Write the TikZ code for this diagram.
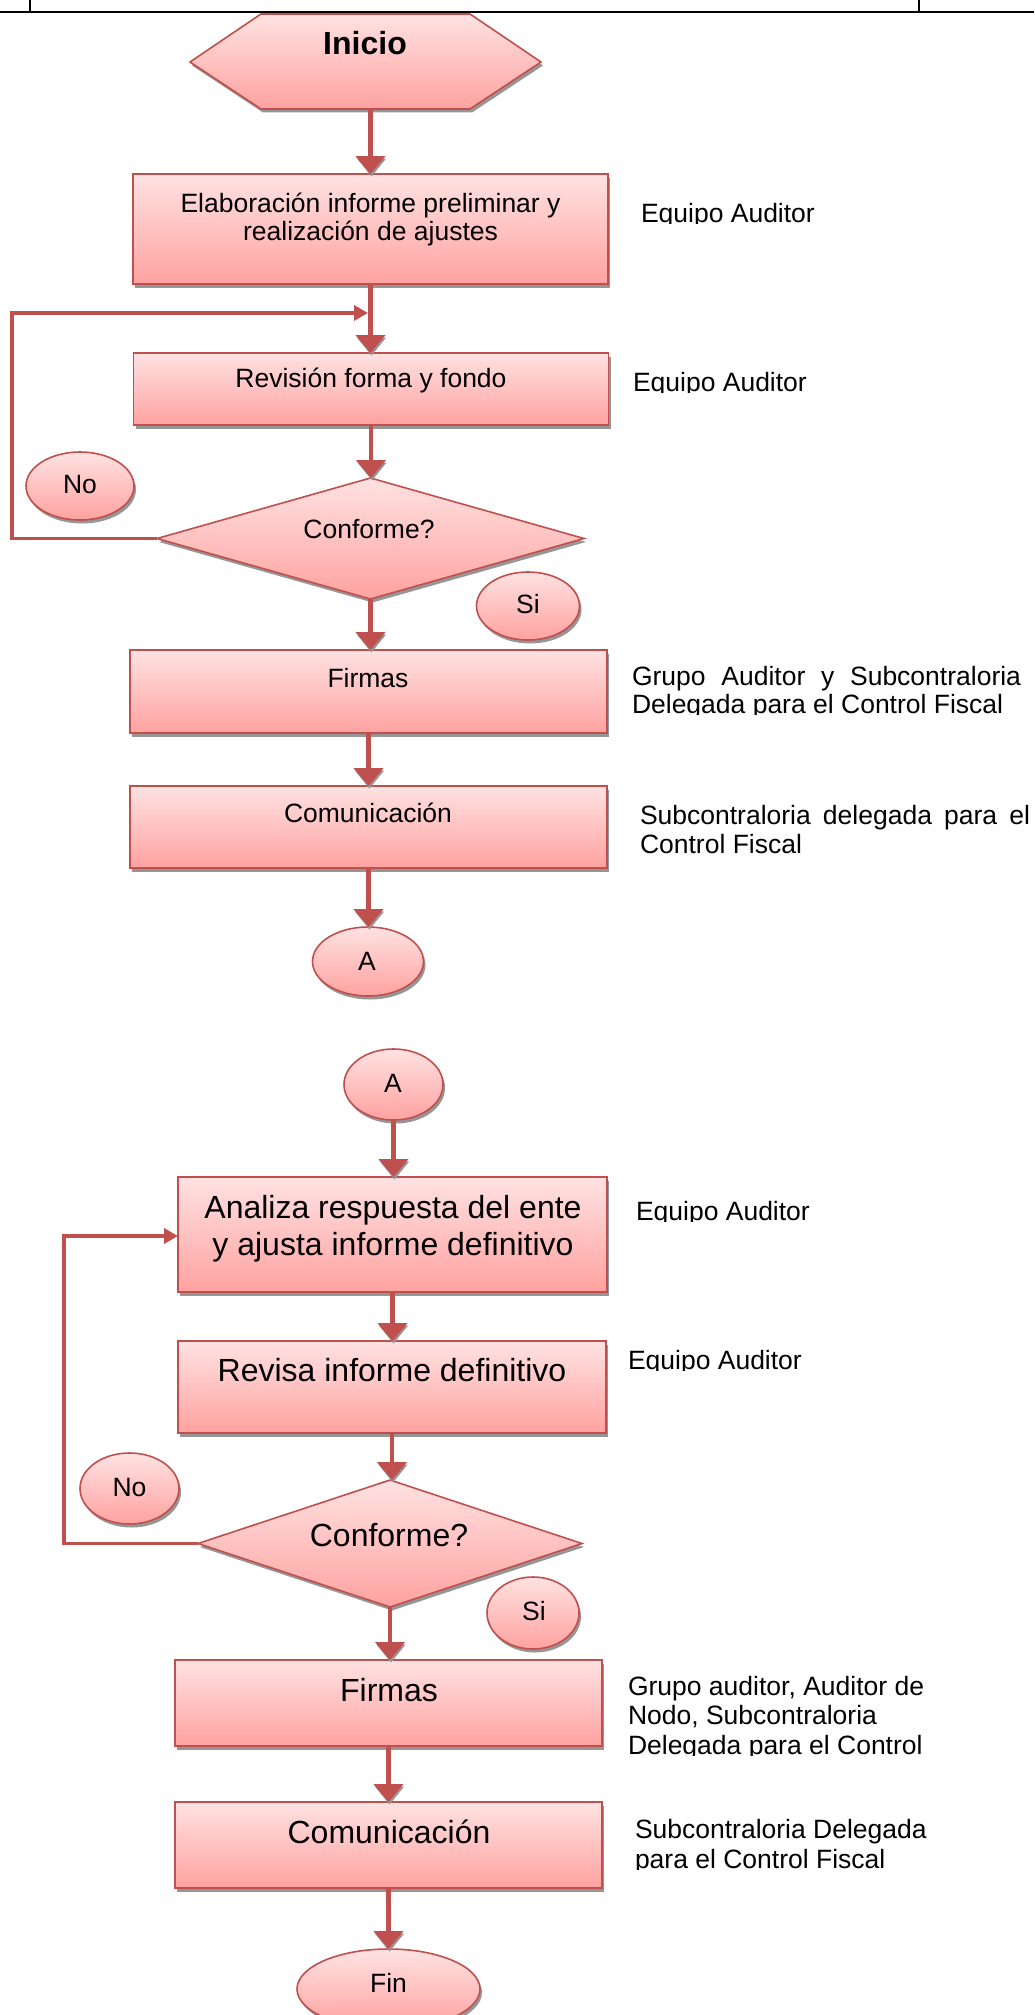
\documentclass[tikz,border=0pt]{standalone}
\usepackage{fontspec}
\setmainfont{Liberation Sans}
\usetikzlibrary{arrows.meta,shapes.geometric,shadows}
\definecolor{lred}{HTML}{C0504D}
\definecolor{ftop}{RGB}{255,226,226}
\definecolor{fbot}{RGB}{255,162,160}
\definecolor{shd}{RGB}{150,150,150}
\newcommand{\arr}[2]{\draw[arrsh] #1 -- #2; \draw[arr] #1 -- #2;}
\begin{document}
\begin{tikzpicture}[x=1pt,y=-1pt,
  every node/.style={inner sep=0pt,outer sep=0pt},
  shp/.style={draw=lred,line width=1.6pt,top color=ftop,bottom color=fbot,
     drop shadow={shadow xshift=2pt,shadow yshift=-3.5pt,fill=shd,opacity=1}},
  tx/.style={font=\fontsize{26.5}{30}\selectfont},
  tb/.style={font=\fontsize{32}{36}\selectfont},
  arr/.style={draw=lred,line width=4.5pt,-{Triangle[width=29pt,length=18pt]}},
  arrsh/.style={draw=shd,line width=0.5pt,-{Triangle[width=29pt,length=18pt]},transform canvas={xshift=1pt,yshift=-2.5pt}},
  loopc/.style={draw=lred,line width=3.5pt,-{Triangle[width=15pt,length=14pt]}},
]
\useasboundingbox (0,0) rectangle (1034,2015);
\clip (0,0) rectangle (1034,2015);
\fill[white] (0,0) rectangle (1034,2015);

% ---------- shapes (upper part)
\path[shp] (190,62) -- (261,14) -- (470,14) -- (541,62) -- (470,109) -- (261,109) -- cycle;
\node[minimum width=351pt,minimum height=95pt] (ini) at (365.5,61.5) {};
\node[shp,minimum width=475pt,minimum height=110pt] (b1) at (370.5,229) {};
\node[shp,minimum width=475pt,minimum height=72pt] (b2) at (371,389) {};
\node[shp,diamond,minimum width=427pt,minimum height=121pt] (d1) at (370.5,538.5) {};
\node[shp,ellipse,minimum width=108pt,minimum height=68pt] (no1) at (80,486) {};
\node[shp,ellipse,minimum width=103pt,minimum height=68pt] (si1) at (528,606) {};
\node[shp,minimum width=477pt,minimum height=83pt] (b3) at (368.5,691.5) {};
\node[shp,minimum width=477pt,minimum height=82pt] (b4) at (368.5,827) {};
\node[shp,ellipse,minimum width=111pt,minimum height=69pt] (a1) at (368,961.5) {};

% ---------- shapes (lower part)
\node[shp,ellipse,minimum width=99pt,minimum height=71pt] (a2) at (393.5,1084.5) {};
\node[shp,minimum width=429pt,minimum height=115pt] (b5) at (392.5,1234.5) {};
\node[shp,minimum width=428pt,minimum height=92pt] (b6) at (392,1387) {};
\node[shp,diamond,minimum width=384pt,minimum height=127pt] (d2) at (390,1543.5) {};
\node[shp,ellipse,minimum width=99pt,minimum height=71pt] (no2) at (129.5,1488.5) {};
\node[shp,ellipse,minimum width=92pt,minimum height=72pt] (si2) at (533,1613) {};
\node[shp,minimum width=427pt,minimum height=86pt] (b7) at (388.5,1703) {};
\node[shp,minimum width=427pt,minimum height=86pt] (b8) at (388.5,1845) {};
\node[shp,ellipse,minimum width=183pt,minimum height=80pt] (fin) at (388.5,1989) {};

% ---------- header
\draw[line width=2.5pt] (0,12) -- (1034,12);
\draw[line width=1.2pt] (30,0) -- (30,12) (919,0) -- (919,12);

% ---------- texts in shapes
\node[font=\bfseries\fontsize{32}{36}\selectfont,anchor=base] (init) at (365,55) {Inicio};
\node[tx,anchor=base] (b1a) at (370.5,212) {Elaboración informe preliminar y};
\node[tx,anchor=base] (b1b) at (370.5,240) {realización de ajustes};
\node[tx,anchor=base] (b2t) at (371,387) {Revisión forma y fondo};
\node[tx,anchor=base] (d1t) at (369,538) {Conforme?};
\node[tx,anchor=base] (no1t) at (80,493) {No};
\node[tx,anchor=base] (si1t) at (528,613) {Si};
\node[tx,anchor=base] (b3t) at (368,687) {Firmas};
\node[tx,anchor=base] (b4t) at (368,822) {Comunicación};
\node[tx,anchor=base] (a1t) at (367,970) {A};
\node[tx,anchor=base] (a2t) at (393,1092) {A};
\node[tb,anchor=base] (b5a) at (393,1218) {Analiza respuesta del ente};
\node[tb,anchor=base] (b5b) at (393,1255) {y ajusta informe definitivo};
\node[tb,anchor=base] (b6t) at (392,1381) {Revisa informe definitivo};
\node[tb,anchor=base] (d2t) at (389,1546) {Conforme?};
\node[tx,anchor=base] (no2t) at (129.5,1496) {No};
\node[tx,anchor=base] (si2t) at (534,1620) {Si};
\node[tb,anchor=base] (b7t) at (389,1701) {Firmas};
\node[tb,anchor=base] (b8t) at (389,1843) {Comunicación};
\node[tx,anchor=base] (fint) at (388.5,1992) {Fin};

% ---------- side labels (clipped text boxes)
\begin{scope}\clip (600,150) rectangle (1034,223.5);
\node[tx,anchor=base west] (l1) at (641,222) {Equipo Auditor};
\end{scope}
\begin{scope}\clip (600,330) rectangle (1034,392.5);
\node[tx,anchor=base west] (l2) at (633,391) {Equipo Auditor};
\end{scope}
\begin{scope}\clip (600,640) rectangle (1034,714.5);
\node[tx,anchor=base west] (l3a) at (632,685) {\makebox[389pt][s]{Grupo Auditor y Subcontraloria}};
\node[tx,anchor=base west] (l3b) at (632,713) {Delegada para el Control Fiscal};
\end{scope}
\begin{scope}\clip (600,780) rectangle (1034,854.5);
\node[tx,anchor=base west] (l4a) at (640,824) {\makebox[390pt][s]{Subcontraloria delegada para el}};
\node[tx,anchor=base west] (l4b) at (640,853) {Control Fiscal};
\end{scope}
\begin{scope}\clip (600,1180) rectangle (1034,1221.5);
\node[tx,anchor=base west] (l5) at (636,1220) {Equipo Auditor};
\end{scope}
\begin{scope}\clip (600,1330) rectangle (1034,1370.5);
\node[tx,anchor=base west] (l6) at (628,1369) {Equipo Auditor};
\end{scope}
\begin{scope}\clip (600,1660) rectangle (1034,1755.5);
\node[tx,anchor=base west] (l7a) at (628,1695) {Grupo auditor, Auditor de};
\node[tx,anchor=base west] (l7b) at (628,1724.5) {Nodo, Subcontraloria};
\node[tx,anchor=base west] (l7c) at (628,1754) {Delegada para el Control};
\end{scope}
\begin{scope}\clip (600,1800) rectangle (1034,1869.5);
\node[tx,anchor=base west] (l8a) at (635,1838) {Subcontraloria Delegada};
\node[tx,anchor=base west] (l8b) at (635,1868) {para el Control Fiscal};
\end{scope}

% ---------- loops
\coordinate (j1) at (371,313);
\coordinate (lp1) at (12,313);
\draw[loopc,shorten >=3pt] (d1.west) -| (lp1) -- (j1);
\coordinate (lp2) at (64,1236);
\draw[loopc] (d2.west) -| (lp2) -- (lp2 -| b5.west);

% ---------- connectors
\arr{(ini.south -| b1.north)}{(b1.north)}
\arr{(b1.south)}{(b1.south |- b2.north)}
\arr{(b2.south)}{(b2.south |- d1.north)}
\arr{(d1.south)}{(d1.south |- b3.north)}
\arr{(b3.south)}{(b3.south |- b4.north)}
\arr{(b4.south)}{(b4.south |- a1.north)}
\arr{(a2.south)}{(a2.south |- b5.north)}
\arr{(b5.south)}{(b5.south |- b6.north)}
\arr{(b6.south)}{(b6.south |- d2.north)}
\arr{(d2.south)}{(d2.south |- b7.north)}
\arr{(b7.south)}{(b7.south |- b8.north)}
\arr{(b8.south)}{(b8.south |- fin.north)}
\end{tikzpicture}
\end{document}
